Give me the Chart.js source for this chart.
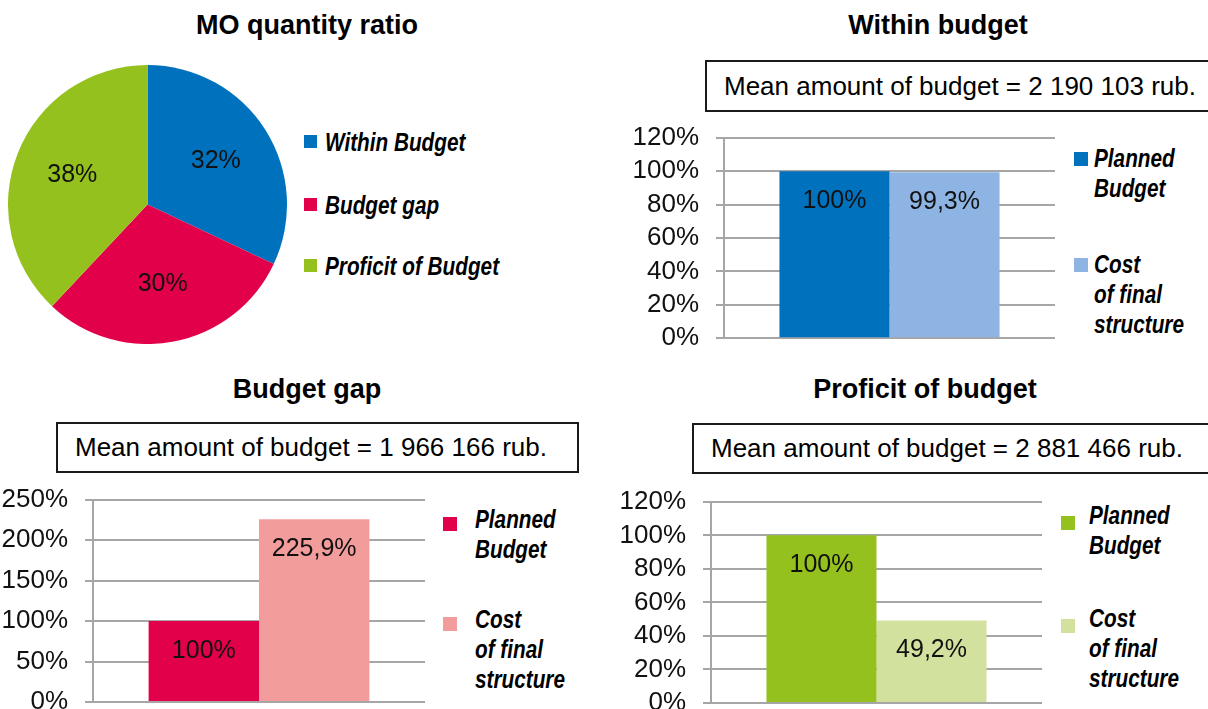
<!DOCTYPE html>
<html>
<head>
<meta charset="utf-8">
<script src="https://cdn.jsdelivr.net/npm/chart.js@4.4.1/dist/chart.umd.min.js"></script>
<style>
  html, body { margin: 0; padding: 0; background: #fff; overflow: hidden; }
  body { width: 1208px; height: 709px; position: relative; font-family: 'Liberation Sans', Arial, sans-serif; color: #000; }
  .title { position: absolute; font-weight: bold; font-size: 27px; line-height: 30px; white-space: nowrap; transform: translateX(-50%); }
  .meanbox { position: absolute; border: 2px solid #1a1a1a; box-sizing: border-box; font-size: 26px; white-space: nowrap; display: flex; align-items: center; padding-left: 17px; }
  canvas { position: absolute; }
  .leg { position: absolute; }
  .leg .sq { position: absolute; left: 0; }
  .leg .txt { position: absolute; font-family: 'Liberation Sans', Arial, sans-serif; font-style: italic; font-weight: bold; font-size: 25px; line-height: 30px; white-space: nowrap; transform-origin: 0 0; transform: scaleX(0.83); }
</style>
</head>
<body>
<div class="title" style="left:307px; top:10px;">MO quantity ratio</div>
<div class="title" style="left:938px; top:10px;">Within budget</div>
<div class="title" style="left:307px; top:374px;">Budget gap</div>
<div class="title" style="left:925px; top:374px;">Proficit of budget</div>

<div class="meanbox" id="box0" style="left:705px; top:60px; width:530px; height:52px;"></div>
<div class="meanbox" id="box1" style="left:56px; top:422px; width:523px; height:51px;"></div>
<div class="meanbox" id="box2" style="left:692px; top:423px; width:530px; height:51px;"></div>

<canvas id="pie" width="279" height="279" style="left:8px; top:65px;"></canvas>
<canvas id="within" width="470" height="250" style="left:600px; top:113px;"></canvas>
<canvas id="gap" width="440" height="252" style="left:0px; top:475px;"></canvas>
<canvas id="proficit" width="457" height="251" style="left:600px; top:477px;"></canvas>

<script>
// pie: share of MOs
const pieLabels = ['Within Budget', 'Budget gap', 'Proficit of Budget'];
const pieValues = [32, 30, 38];
const pieColors = ['#0071bd', '#e3004a', '#95c11f'];

// bars: planned budget vs cost of final structure, %
const barSeries = ['Planned Budget', 'Cost of final structure'];
const barLegendLines = [['Planned', 'Budget'], ['Cost', 'of final', 'structure']];
const withinValues = [100, 99.3];
const gapValues = [100, 225.9];
const proficitValues = [100, 49.2];
const meanAmounts = ['2 190 103', '1 966 166', '2 881 466'];

const withinColors = ['#0071bd', '#8db4e2'];
const gapColors = ['#e3004a', '#f29c9c'];
const proficitColors = ['#95c11f', '#d3e19e'];

const FONT = "'Liberation Sans', Arial, sans-serif";

meanAmounts.forEach((m, i) => {
  document.getElementById('box' + i).textContent = 'Mean amount of budget = ' + m + ' rub.';
});

function addLegend(sqX, textDx, sqSize, sqDy, items) {
  items.forEach(it => {
    const d = document.createElement('div');
    d.className = 'leg';
    d.style.left = sqX + 'px';
    d.style.top = it.top + 'px';
    const sq = document.createElement('div');
    sq.className = 'sq';
    sq.style.top = sqDy + 'px';
    sq.style.width = sqSize + 'px';
    sq.style.height = sqSize + 'px';
    sq.style.background = it.color;
    const t = document.createElement('div');
    t.className = 'txt';
    t.style.left = textDx + 'px';
    t.innerHTML = it.lines.join('<br>');
    d.appendChild(sq);
    d.appendChild(t);
    document.body.appendChild(d);
  });
}

const valueLabels = {
  id: 'valueLabels',
  afterDatasetsDraw(chart) {
    const ctx = chart.ctx;
    ctx.save();
    ctx.font = '25px ' + FONT;
    ctx.fillStyle = '#111';
    ctx.textAlign = 'center';
    ctx.textBaseline = 'middle';
    chart.data.datasets.forEach((ds, i) => {
      chart.getDatasetMeta(i).data.forEach((el, j) => {
        const txt = String(ds.data[j]).replace('.', ',') + '%';
        if (chart.config.type === 'pie') {
          const mid = (el.startAngle + el.endAngle) / 2;
          const r = el.outerRadius * 0.58;
          ctx.fillText(txt, el.x + Math.cos(mid) * r, el.y + Math.sin(mid) * r);
        } else {
          ctx.fillText(txt, el.x, el.y + 30);
        }
      });
    });
    ctx.restore();
  }
};

new Chart(document.getElementById('pie'), {
  type: 'pie',
  data: {
    labels: pieLabels,
    datasets: [{ data: pieValues, backgroundColor: pieColors, borderWidth: 0 }]
  },
  options: {
    responsive: false,
    animation: false,
    plugins: { legend: { display: false }, tooltip: { enabled: false } }
  },
  plugins: [valueLabels]
});

function barChart(id, values, colors, max, step, axisW, pad) {
  return new Chart(document.getElementById(id), {
    type: 'bar',
    data: {
      labels: [''],
      datasets: barSeries.map((name, i) => ({
        label: name,
        data: [values[i]],
        backgroundColor: colors[i],
        borderWidth: 0,
        categoryPercentage: 0.665,
        barPercentage: 1
      }))
    },
    options: {
      responsive: false,
      animation: false,
      layout: { padding: pad },
      plugins: { legend: { display: false }, tooltip: { enabled: false } },
      scales: {
        x: { display: false },
        y: {
          min: 0,
          max: max,
          ticks: { stepSize: step, padding: 17, color: '#111', font: { family: FONT, size: 26, lineHeight: 0.6 }, callback: v => v + '%' },
          grid: { color: '#a6a6a6', lineWidth: 2, tickLength: 8, drawTicks: true },
          border: { color: '#a6a6a6', width: 2 },
          afterFit: s => { s.width = axisW; }
        }
      }
    },
    plugins: [valueLabels]
  });
}

barChart('within', withinValues, withinColors, 120, 20, 124, { top: 20, right: 15, bottom: 20, left: 0 });
barChart('gap', gapValues, gapColors, 250, 50, 93, { top: 20, right: 15, bottom: 25, left: 0 });
barChart('proficit', proficitValues, proficitColors, 120, 20, 111, { top: 20, right: 15, bottom: 25, left: 0 });

addLegend(304, 21, 13, 8, pieLabels.map((l, i) => ({ color: pieColors[i], lines: [l], top: [127, 190, 251][i] })));
addLegend(1074, 20, 14, 9, barLegendLines.map((l, i) => ({ color: withinColors[i], lines: l, top: [143, 249][i] })));
addLegend(443, 32, 14, 13, barLegendLines.map((l, i) => ({ color: gapColors[i], lines: l, top: [504, 604][i] })));
addLegend(1061, 28, 14, 16, barLegendLines.map((l, i) => ({ color: proficitColors[i], lines: l, top: [500, 603][i] })));
</script>
</body>
</html>
